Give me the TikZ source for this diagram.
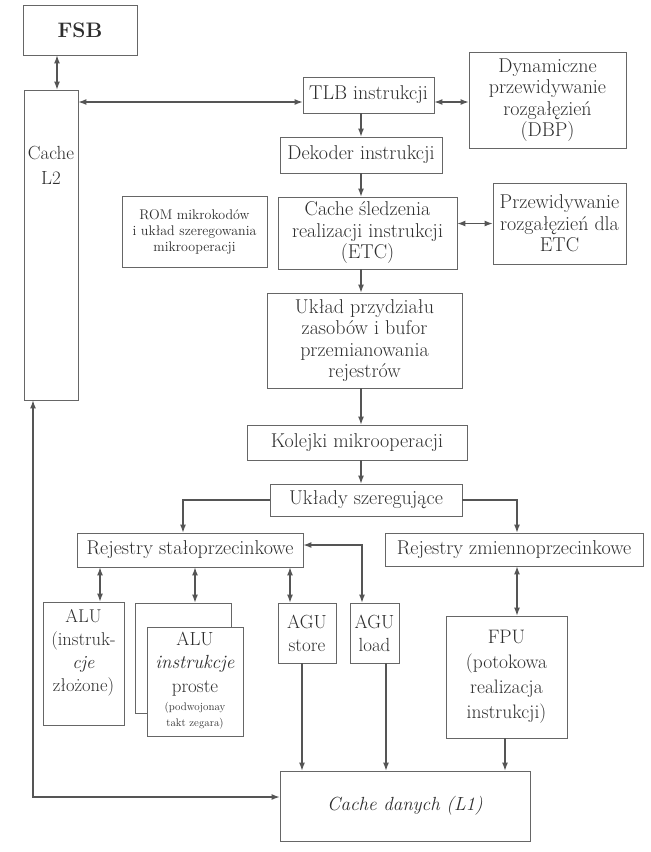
\documentclass[tikz,border=0pt]{standalone}
\usetikzlibrary{arrows.meta}
\definecolor{linec}{HTML}{555555}
\definecolor{boxc}{HTML}{666666}
\definecolor{txtc}{HTML}{2E2E2E}
\newcommand{\fsz}[2]{\fontsize{#1}{#2}\selectfont}
\begin{document}
\begin{tikzpicture}[x=1pt,y=-1pt,
  box/.style={draw=boxc, line width=0.9pt, rectangle, inner sep=0pt, align=center, text=txtc, font=\fsz{20}{21.5}},
  txt/.style={text=txtc, align=center, inner sep=0pt, font=\fsz{20}{21.5}},
  arr/.style={draw=linec, line width=1.1pt, -{Latex[length=8pt,width=6pt]}},
  darr/.style={draw=linec, line width=1.1pt, {Latex[length=8pt,width=6pt]}-{Latex[length=8pt,width=6pt]}}]
\useasboundingbox (0,0) rectangle (651,852);
\fill[white] (0,0) rectangle (651,852);

% boxes
\node[box, minimum width=114pt, minimum height=50pt, font=\fsz{21}{26}\bfseries] (fsb) at (80,30) {FSB};
\node[box, minimum width=54pt, minimum height=310pt] (l2) at (51,245) {};
\node[txt, font=\fsz{19}{25}] (l2t) at (51,165) {Cache\\L2};
\node[box, minimum width=131pt, minimum height=36pt] (tlb) at (368.5,95) {TLB instrukcji};
\node[box, minimum width=157pt, minimum height=96pt] (dyn) at (547.5,100) {Dynamiczne\\przewidywanie\\rozgałęzień\\(DBP)};
\node[box, minimum width=162pt, minimum height=36pt] (dek) at (361,155) {Dekoder instrukcji};
\node[box, minimum width=179pt, minimum height=72pt] (etc) at (367.5,233) {Cache śledzenia\\realizacji instrukcji\\(ETC)};
\node[box, minimum width=133pt, minimum height=81pt] (przew) at (559.5,223.5) {Przewidywanie\\rozgałęzień dla\\ETC};
\node[box, minimum width=145pt, minimum height=71pt, font=\fsz{14}{16}] (rom) at (194.5,232) {ROM mikrokodów\\i układ szeregowania\\mikrooperacji};
\node[box, minimum width=195pt, minimum height=95pt] (uklad) at (364.5,340.5) {Układ przydziału\\zasobów i bufor\\przemianowania\\rejestrów};
\node[box, minimum width=220pt, minimum height=35pt] (kol) at (357,442.5) {Kolejki mikrooperacji};
\node[box, minimum width=192pt, minimum height=32pt] (uklady) at (366,500) {Układy szeregujące};
\node[box, minimum width=226pt, minimum height=34pt] (rejst) at (190,550) {Rejestry stałoprzecinkowe};
\node[box, minimum width=258pt, minimum height=33pt] (rejzm) at (514,549.5) {Rejestry zmiennoprzecinkowe};
\node[box, minimum width=81pt, minimum height=123pt] (alua) at (83.5,663.5) {};
\node[txt, font=\fsz{18.5}{23}] (aluat) at (83.5,653) {ALU\\(instruk-\\\textit{cje}\\złożone)};
\node[box, minimum width=96pt, minimum height=110pt] (alub) at (183,658) {};
\node[box, fill=white, minimum width=96pt, minimum height=109pt] (aluc) at (195,681.5) {};
\node[txt, font=\fsz{19}{23.5}] (aluct) at (195,664) {ALU\\\textit{instrukcje}\\proste};
\node[txt, font=\fsz{11}{16}] (alucs) at (195,716) {(podwojonay\\takt zegara)};
\node[box, minimum width=58pt, minimum height=60pt, font=\fsz{19}{23}] (agus) at (307,633) {AGU\\store};
\node[box, minimum width=49pt, minimum height=60pt, font=\fsz{19}{23}] (agul) at (374.5,633) {AGU\\load};
\node[box, minimum width=121pt, minimum height=122pt, font=\fsz{19.5}{25}] (fpu) at (506.5,677) {FPU\\(potokowa\\realizacja\\instrukcji)};
\node[box, minimum width=250pt, minimum height=70pt, font=\fsz{19}{21.5}\itshape] (cache) at (405,806) {Cache danych (L1)};

% helper coordinates
\coordinate (xa) at (57,0);
\coordinate (ya) at (0,102);
\coordinate (xb) at (183,0);
\coordinate (xc) at (517,0);
\coordinate (x1) at (100,0);
\coordinate (x2) at (195,0);
\coordinate (x3) at (290,0);
\coordinate (yb) at (0,545);
\coordinate (xd) at (362,0);
\coordinate (x4) at (302,0);
\coordinate (x5) at (386,0);
\coordinate (x6) at (505,0);
\coordinate (xe) at (33,0);
\coordinate (yc) at (0,797);

% connectors
\draw[darr] (fsb.south -| xa) -- (l2.north -| xa);
\draw[darr] (l2.east |- ya) -- (tlb.west |- ya);
\draw[darr] (tlb.east |- ya) -- (dyn.west |- ya);
\draw[arr] (tlb.south -| dek.north) -- (dek.north);
\draw[arr] (dek.south) -- (etc.north -| dek.south);
\draw[darr] (etc.east |- przew.west) -- (przew.west);
\draw[arr] (etc.south -| dek.south) -- (uklad.north -| dek.south);
\draw[arr] (uklad.south -| dek.south) -- (kol.north -| dek.south);
\draw[arr] (kol.south -| dek.south) -- (uklady.north -| dek.south);
\draw[arr] (uklady.west) -| (rejst.north -| xb);
\draw[arr] (uklady.east) -| (rejzm.north -| xc);
\draw[darr] (rejst.south -| x1) -- (alua.north -| x1);
\draw[darr] (rejst.south -| x2) -- (alub.north -| x2);
\draw[darr] (rejst.south -| x3) -- (agus.north -| x3);
\draw[darr] (rejst.east |- yb) -| (agul.north -| xd);
\draw[darr] (rejzm.south -| xc) -- (fpu.north -| xc);
\draw[arr] (agus.south -| x4) -- (cache.north -| x4);
\draw[arr] (agul.south -| x5) -- (cache.north -| x5);
\draw[arr] (fpu.south -| x6) -- (cache.north -| x6);
\draw[darr] (l2.south -| xe) |- (cache.west |- yc);
\end{tikzpicture}
\end{document}
